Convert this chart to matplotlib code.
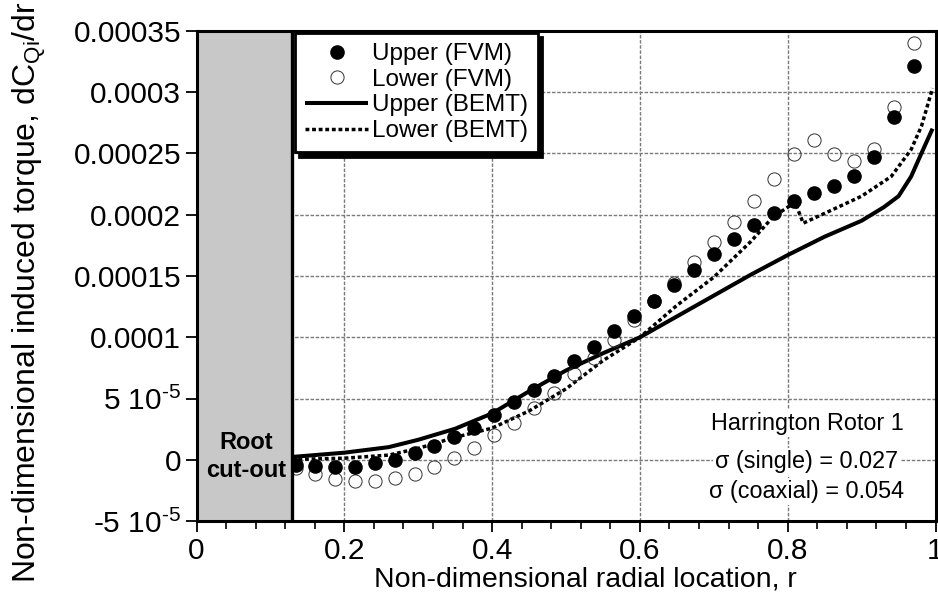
import matplotlib
matplotlib.use("Agg")
import matplotlib.pyplot as plt
import numpy as np
from matplotlib.patches import Rectangle
from matplotlib.ticker import MultipleLocator

plt.rcParams['font.family'] = ['Liberation Sans', 'DejaVu Sans']
plt.rcParams['mathtext.fontset'] = 'custom'
plt.rcParams['mathtext.rm'] = 'Liberation Sans'
plt.rcParams['mathtext.it'] = 'Liberation Sans:italic'

SCALE = 1e-5

# FVM radial stations
r_fvm = [0.134, 0.161, 0.187, 0.214, 0.241, 0.268, 0.295, 0.322, 0.349, 0.376,
         0.403, 0.430, 0.457, 0.484, 0.511, 0.538, 0.565, 0.592, 0.619, 0.646,
         0.673, 0.700, 0.727, 0.755, 0.782, 0.809, 0.836, 0.863, 0.890, 0.917,
         0.944, 0.971]
upper_fvm = [-0.41, -0.49, -0.55, -0.55, -0.27, 0.0, 0.55, 1.14, 1.85, 2.63,
             3.67, 4.75, 5.73, 6.87, 8.05, 9.2, 10.48, 11.72, 12.98, 14.28,
             15.52, 16.82, 17.99, 19.13, 20.15, 21.1, 21.75, 22.33, 23.13, 24.72,
             27.98, 32.13]
lower_fvm = [-0.68, -1.12, -1.55, -1.69, -1.69, -1.5, -1.1, -0.58, 0.14, 0.95,
             2.04, 2.99, 4.21, 5.43, 7.01, 8.29, 9.78, 11.38, 12.93, 14.45,
             16.13, 17.75, 19.41, 21.12, 22.89, 24.9, 26.1, 24.9, 24.35, 25.33,
             28.77, 34.0]

r_upper_bemt = [0.129, 0.2, 0.26, 0.3, 0.35, 0.4, 0.45, 0.5, 0.55, 0.6, 0.65,
                0.7, 0.75, 0.8, 0.85, 0.9, 0.93, 0.95, 0.967, 0.981, 0.996]
upper_bemt = [0.25, 0.6, 1.05, 1.65, 2.55, 3.8, 5.6, 7.3, 8.7, 10.0, 11.7,
              13.4, 15.1, 16.7, 18.2, 19.5, 20.6, 21.5, 23.1, 25.0, 27.0]

r_lower_bemt = [0.129, 0.2, 0.26, 0.3, 0.35, 0.4, 0.45, 0.5, 0.55, 0.6, 0.65,
                0.7, 0.75, 0.78, 0.81, 0.821, 0.85, 0.9, 0.94, 0.967, 0.981, 0.996]
lower_bemt = [0.05, 0.15, 0.4, 0.95, 1.85, 2.6, 4.0, 5.8, 8.1, 10.0, 12.6,
              14.9, 17.8, 19.8, 21.0, 19.3, 20.1, 21.5, 23.1, 25.3, 27.2, 30.3]

root_cutout = 0.1295

x_ticks = [0, 0.2, 0.4, 0.6, 0.8, 1.0]
x_ticklabels = ['0', '0.2', '0.4', '0.6', '0.8', '1']
y_ticks = [-5e-5, 0, 5e-5, 1e-4, 1.5e-4, 2e-4, 2.5e-4, 3e-4, 3.5e-4]
y_ticklabels = ['-5 10$^{\\mathregular{\u20105}}$', '0', '5 10$^{\\mathregular{\u20105}}$',
                '0.0001', '0.00015', '0.0002', '0.00025', '0.0003', '0.00035']

fig = plt.figure(figsize=(9.38, 6.05), dpi=100)
ax = fig.add_axes([196.5/938, 1 - 521.4/605, 739/938, 490.9/605])

s = lambda v: np.array(v) * SCALE

ax.plot(r_upper_bemt, s(upper_bemt), color='black', lw=2.9, solid_capstyle='butt',
        label='Upper (BEMT)', zorder=3)
ax.plot(r_lower_bemt, s(lower_bemt), color='black', lw=2.5, dashes=(1.1, 0.8),
        label='Lower (BEMT)', zorder=3)
ax.plot(r_fvm, s(lower_fvm), 'o', ms=9.5, mfc='none', mec='#333333', mew=0.7,
        ls='none', label='Lower (FVM)', zorder=4)
ax.plot(r_fvm, s(upper_fvm), 'o', ms=9.5, mfc='black', mec='black',
        ls='none', label='Upper (FVM)', zorder=5)

ax.set_xlim(0, 1)
ax.set_ylim(-5e-5, 3.5e-4)

# root cut-out
ax.add_patch(Rectangle((0, -5e-5), root_cutout, 4e-4, facecolor='#c8c8c8',
                       edgecolor='none', zorder=6))
ax.axvline(root_cutout, color='black', lw=2.4, zorder=7)
ax.text(root_cutout / 2 + 0.002, 0.3e-5, 'Root\ncut-out', ha='center', va='center',
        fontsize=17, fontweight='bold', linespacing=1.3, zorder=8)

ax.set_xticks(x_ticks)
ax.set_xticklabels(x_ticklabels)
ax.xaxis.set_minor_locator(MultipleLocator(0.04))
ax.set_yticks(y_ticks)
ax.set_yticklabels(y_ticklabels)
ax.tick_params(axis='both', which='major', direction='out', length=8, width=1.3,
               labelsize=21.5, pad=3)
ax.tick_params(axis='x', which='minor', direction='out', length=6, width=1.2)

ax.grid(True, which='major', color='#7a7a7a', linestyle=(0, (2.5, 1.2)), lw=1.0)
ax.set_axisbelow(True)
for sp in ax.spines.values():
    sp.set_linewidth(2.2)
    sp.set_zorder(9)

ax.set_xlabel('Non-dimensional radial location, r', fontsize=20.5)
ax.xaxis.set_label_coords((585 - 196.5) / 739, (521.4 - 567) / 490.9)
ax.set_ylabel('Non-dimensional induced torque, dC$_{\\mathregular{Qi}}$/dr',
              fontsize=23)
ax.yaxis.set_label_coords((48 - 196.5) / 739, (521.4 - 292) / 490.9)

handles, labels = ax.get_legend_handles_labels()
order = [3, 2, 0, 1]
leg = ax.legend([handles[i] for i in order], [labels[i] for i in order],
                loc='upper left', bbox_to_anchor=(0.133, 0.995), borderaxespad=0,
                fontsize=17.5, handlelength=2.6, handletextpad=0.15,
                labelspacing=0.15, borderpad=0.42, fancybox=False,
                framealpha=1, edgecolor='black',
                shadow={'color': 'black', 'alpha': 1, 'ox': 3, 'oy': -3})
leg.get_frame().set_linewidth(2.0)
leg.set_zorder(10)

bb = dict(facecolor='white', edgecolor='none', pad=1.5)
ax.text(0.826, 3.0e-5, 'Harrington Rotor 1', ha='center', va='center', fontsize=16.8,
        bbox=bb, zorder=8)
ax.text(0.826, -0.14e-5, 'σ (single) = 0.027', ha='center', va='center', fontsize=16.8,
        bbox=bb, zorder=8)
ax.text(0.826, -2.58e-5, 'σ (coaxial) = 0.054', ha='center', va='center', fontsize=16.8,
        bbox=bb, zorder=8)

fig.savefig('out.png', dpi=100)
